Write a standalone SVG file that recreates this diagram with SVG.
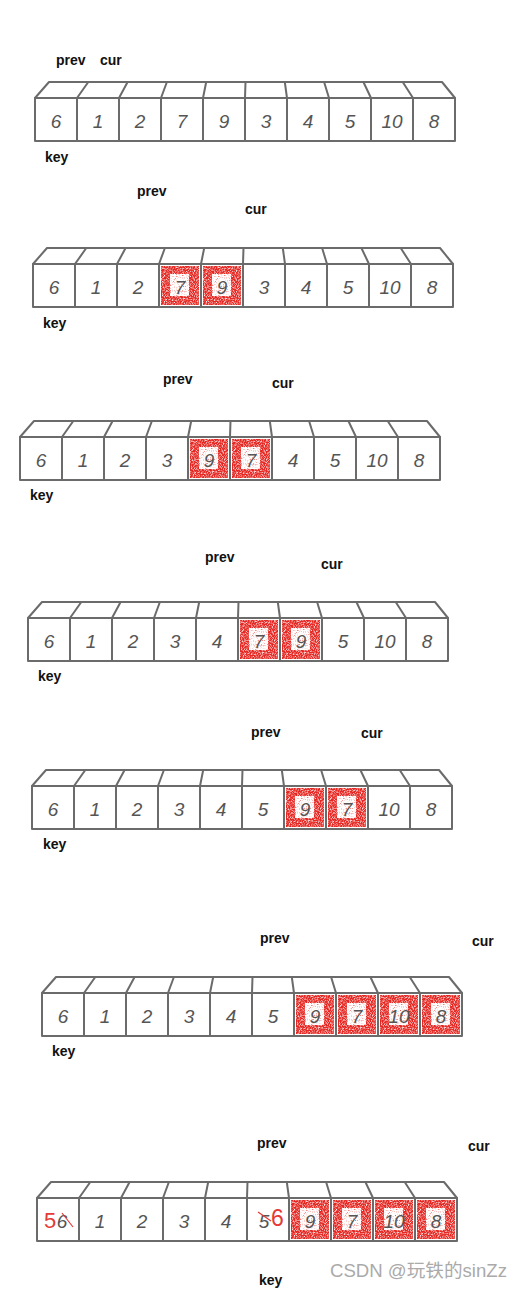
<svg xmlns="http://www.w3.org/2000/svg" xmlns:xlink="http://www.w3.org/1999/xlink" width="522" height="1290" viewBox="0 0 522 1290">
<style>
.lbl{font-family:"Liberation Sans",Arial,sans-serif;font-weight:bold;font-size:14px;fill:#111}
.dg{font-family:"Liberation Sans",Arial,sans-serif;font-style:italic;font-size:19px;fill:#555;text-anchor:middle}
.fr{fill:#fff;stroke:#6b6b6b;stroke-width:2;stroke-linejoin:round}
.ln{stroke:#6b6b6b;stroke-width:2;fill:none}
.red{fill:#e62620;filter:url(#speck)}
.hole{fill:#fff;filter:url(#speck2)}
.rt{font-family:"Liberation Sans",Arial,sans-serif;fill:#e53935}
.wm{font-family:"Liberation Sans","Noto Sans CJK SC",sans-serif;font-size:18.6px;fill:#aaa}
</style>
<defs>
<filter id="speck" x="-5%" y="-5%" width="110%" height="110%">
<feTurbulence type="fractalNoise" baseFrequency="0.9" numOctaves="2" seed="3" result="n"/>
<feColorMatrix in="n" type="matrix" values="0 0 0 0 0  0 0 0 0 0  0 0 0 0 0  0 0 0 -2.2 1.9" result="m"/>
<feComposite in="SourceGraphic" in2="m" operator="in"/>
</filter>
<filter id="speck2" x="-5%" y="-5%" width="110%" height="110%">
<feTurbulence type="fractalNoise" baseFrequency="0.8" numOctaves="2" seed="7" result="n"/>
<feColorMatrix in="n" type="matrix" values="0 0 0 0 0  0 0 0 0 0  0 0 0 0 0  0 0 0 -2.5 2.3" result="m"/>
<feComposite in="SourceGraphic" in2="m" operator="in"/>
</filter>
<g id="frame">
<polygon class="fr" points="0,0 14,-16 407,-16 420,0"/>
<rect class="fr" x="0" y="0" width="420" height="43"/>
<path class="ln" d="M42,0V43M84,0V43M126,0V43M168,0V43M210,0V43M252,0V43M294,0V43M336,0V43M378,0V43"/>
<path class="ln" d="M42,0L53.3,-16M84,0L92.6,-16M126,0L131.9,-16M168,0L171.2,-16M210,0L210.5,-16M252,0L249.8,-16M294,0L289.1,-16M336,0L328.4,-16M378,0L367.7,-16"/>
</g>
<g id="redcell">
<rect class="red" x="2" y="2" width="38" height="39"/>
<rect class="hole" x="11" y="10" width="19" height="22"/>
</g>
</defs>

<g id="row1" transform="translate(35,98)">
<use href="#frame"/>
<g id="r1c0"><text class="dg" x="21" y="30">6</text></g>
<g id="r1c1"><text class="dg" x="63" y="30">1</text></g>
<g id="r1c2"><text class="dg" x="105" y="30">2</text></g>
<g id="r1c3"><text class="dg" x="147" y="30">7</text></g>
<g id="r1c4"><text class="dg" x="189" y="30">9</text></g>
<g id="r1c5"><text class="dg" x="231" y="30">3</text></g>
<g id="r1c6"><text class="dg" x="273" y="30">4</text></g>
<g id="r1c7"><text class="dg" x="315" y="30">5</text></g>
<g id="r1c8"><text class="dg" x="357" y="30">10</text></g>
<g id="r1c9"><text class="dg" x="399" y="30">8</text></g>
</g>
<g id="row1-labels">
<text class="lbl" x="56" y="65">prev</text>
<text class="lbl" x="100" y="65">cur</text>
<text class="lbl" x="45" y="162">key</text>
</g>

<g id="row2" transform="translate(33,264)">
<use href="#frame"/>
<g id="r2c0"><text class="dg" x="21" y="30">6</text></g>
<g id="r2c1"><text class="dg" x="63" y="30">1</text></g>
<g id="r2c2"><text class="dg" x="105" y="30">2</text></g>
<g id="r2c3"><use href="#redcell" x="126"/><text class="dg" x="147" y="30">7</text></g>
<g id="r2c4"><use href="#redcell" x="168"/><text class="dg" x="189" y="30">9</text></g>
<g id="r2c5"><text class="dg" x="231" y="30">3</text></g>
<g id="r2c6"><text class="dg" x="273" y="30">4</text></g>
<g id="r2c7"><text class="dg" x="315" y="30">5</text></g>
<g id="r2c8"><text class="dg" x="357" y="30">10</text></g>
<g id="r2c9"><text class="dg" x="399" y="30">8</text></g>
</g>
<g id="row2-labels">
<text class="lbl" x="137" y="196">prev</text>
<text class="lbl" x="245" y="214">cur</text>
<text class="lbl" x="43" y="328">key</text>
</g>

<g id="row3" transform="translate(20,437)">
<use href="#frame"/>
<g id="r3c0"><text class="dg" x="21" y="30">6</text></g>
<g id="r3c1"><text class="dg" x="63" y="30">1</text></g>
<g id="r3c2"><text class="dg" x="105" y="30">2</text></g>
<g id="r3c3"><text class="dg" x="147" y="30">3</text></g>
<g id="r3c4"><use href="#redcell" x="168"/><text class="dg" x="189" y="30">9</text></g>
<g id="r3c5"><use href="#redcell" x="210"/><text class="dg" x="231" y="30">7</text></g>
<g id="r3c6"><text class="dg" x="273" y="30">4</text></g>
<g id="r3c7"><text class="dg" x="315" y="30">5</text></g>
<g id="r3c8"><text class="dg" x="357" y="30">10</text></g>
<g id="r3c9"><text class="dg" x="399" y="30">8</text></g>
</g>
<g id="row3-labels">
<text class="lbl" x="163" y="384">prev</text>
<text class="lbl" x="272" y="388">cur</text>
<text class="lbl" x="30" y="500">key</text>
</g>

<g id="row4" transform="translate(28,618)">
<use href="#frame"/>
<g id="r4c0"><text class="dg" x="21" y="30">6</text></g>
<g id="r4c1"><text class="dg" x="63" y="30">1</text></g>
<g id="r4c2"><text class="dg" x="105" y="30">2</text></g>
<g id="r4c3"><text class="dg" x="147" y="30">3</text></g>
<g id="r4c4"><text class="dg" x="189" y="30">4</text></g>
<g id="r4c5"><use href="#redcell" x="210"/><text class="dg" x="231" y="30">7</text></g>
<g id="r4c6"><use href="#redcell" x="252"/><text class="dg" x="273" y="30">9</text></g>
<g id="r4c7"><text class="dg" x="315" y="30">5</text></g>
<g id="r4c8"><text class="dg" x="357" y="30">10</text></g>
<g id="r4c9"><text class="dg" x="399" y="30">8</text></g>
</g>
<g id="row4-labels">
<text class="lbl" x="205" y="562">prev</text>
<text class="lbl" x="321" y="569">cur</text>
<text class="lbl" x="38" y="681">key</text>
</g>

<g id="row5" transform="translate(32,786)">
<use href="#frame"/>
<g id="r5c0"><text class="dg" x="21" y="30">6</text></g>
<g id="r5c1"><text class="dg" x="63" y="30">1</text></g>
<g id="r5c2"><text class="dg" x="105" y="30">2</text></g>
<g id="r5c3"><text class="dg" x="147" y="30">3</text></g>
<g id="r5c4"><text class="dg" x="189" y="30">4</text></g>
<g id="r5c5"><text class="dg" x="231" y="30">5</text></g>
<g id="r5c6"><use href="#redcell" x="252"/><text class="dg" x="273" y="30">9</text></g>
<g id="r5c7"><use href="#redcell" x="294"/><text class="dg" x="315" y="30">7</text></g>
<g id="r5c8"><text class="dg" x="357" y="30">10</text></g>
<g id="r5c9"><text class="dg" x="399" y="30">8</text></g>
</g>
<g id="row5-labels">
<text class="lbl" x="251" y="737">prev</text>
<text class="lbl" x="361" y="738">cur</text>
<text class="lbl" x="43" y="849">key</text>
</g>

<g id="row6" transform="translate(42,993)">
<use href="#frame"/>
<g id="r6c0"><text class="dg" x="21" y="30">6</text></g>
<g id="r6c1"><text class="dg" x="63" y="30">1</text></g>
<g id="r6c2"><text class="dg" x="105" y="30">2</text></g>
<g id="r6c3"><text class="dg" x="147" y="30">3</text></g>
<g id="r6c4"><text class="dg" x="189" y="30">4</text></g>
<g id="r6c5"><text class="dg" x="231" y="30">5</text></g>
<g id="r6c6"><use href="#redcell" x="252"/><text class="dg" x="273" y="30">9</text></g>
<g id="r6c7"><use href="#redcell" x="294"/><text class="dg" x="315" y="30">7</text></g>
<g id="r6c8"><use href="#redcell" x="336"/><text class="dg" x="357" y="30">10</text></g>
<g id="r6c9"><use href="#redcell" x="378"/><text class="dg" x="399" y="30">8</text></g>
</g>
<g id="row6-labels">
<text class="lbl" x="260" y="943">prev</text>
<text class="lbl" x="472" y="946">cur</text>
<text class="lbl" x="52" y="1056">key</text>
</g>

<g id="row7" transform="translate(37,1198)">
<use href="#frame"/>
<g id="r7c0">
<text class="rt" x="7" y="30" font-size="22">5</text>
<text class="dg" x="25" y="30">6</text>
<path d="M25,15L36,29" stroke="#e53935" stroke-width="1.2" fill="none"/>
</g>
<g id="r7c1"><text class="dg" x="63" y="30">1</text></g>
<g id="r7c2"><text class="dg" x="105" y="30">2</text></g>
<g id="r7c3"><text class="dg" x="147" y="30">3</text></g>
<g id="r7c4"><text class="dg" x="189" y="30">4</text></g>
<g id="r7c5">
<text class="dg" x="227" y="30">5</text>
<path d="M221,14L234,23" stroke="#e53935" stroke-width="1.2" fill="none"/>
<text class="rt" x="234" y="28" font-size="23">6</text>
</g>
<g id="r7c6"><use href="#redcell" x="252"/><text class="dg" x="273" y="30">9</text></g>
<g id="r7c7"><use href="#redcell" x="294"/><text class="dg" x="315" y="30">7</text></g>
<g id="r7c8"><use href="#redcell" x="336"/><text class="dg" x="357" y="30">10</text></g>
<g id="r7c9"><use href="#redcell" x="378"/><text class="dg" x="399" y="30">8</text></g>
</g>
<g id="row7-labels">
<text class="lbl" x="257" y="1148">prev</text>
<text class="lbl" x="468" y="1151">cur</text>
<text class="lbl" x="259" y="1285">key</text>
</g>

<text class="wm" x="330" y="1277">CSDN @玩铁的sinZz</text>
</svg>
